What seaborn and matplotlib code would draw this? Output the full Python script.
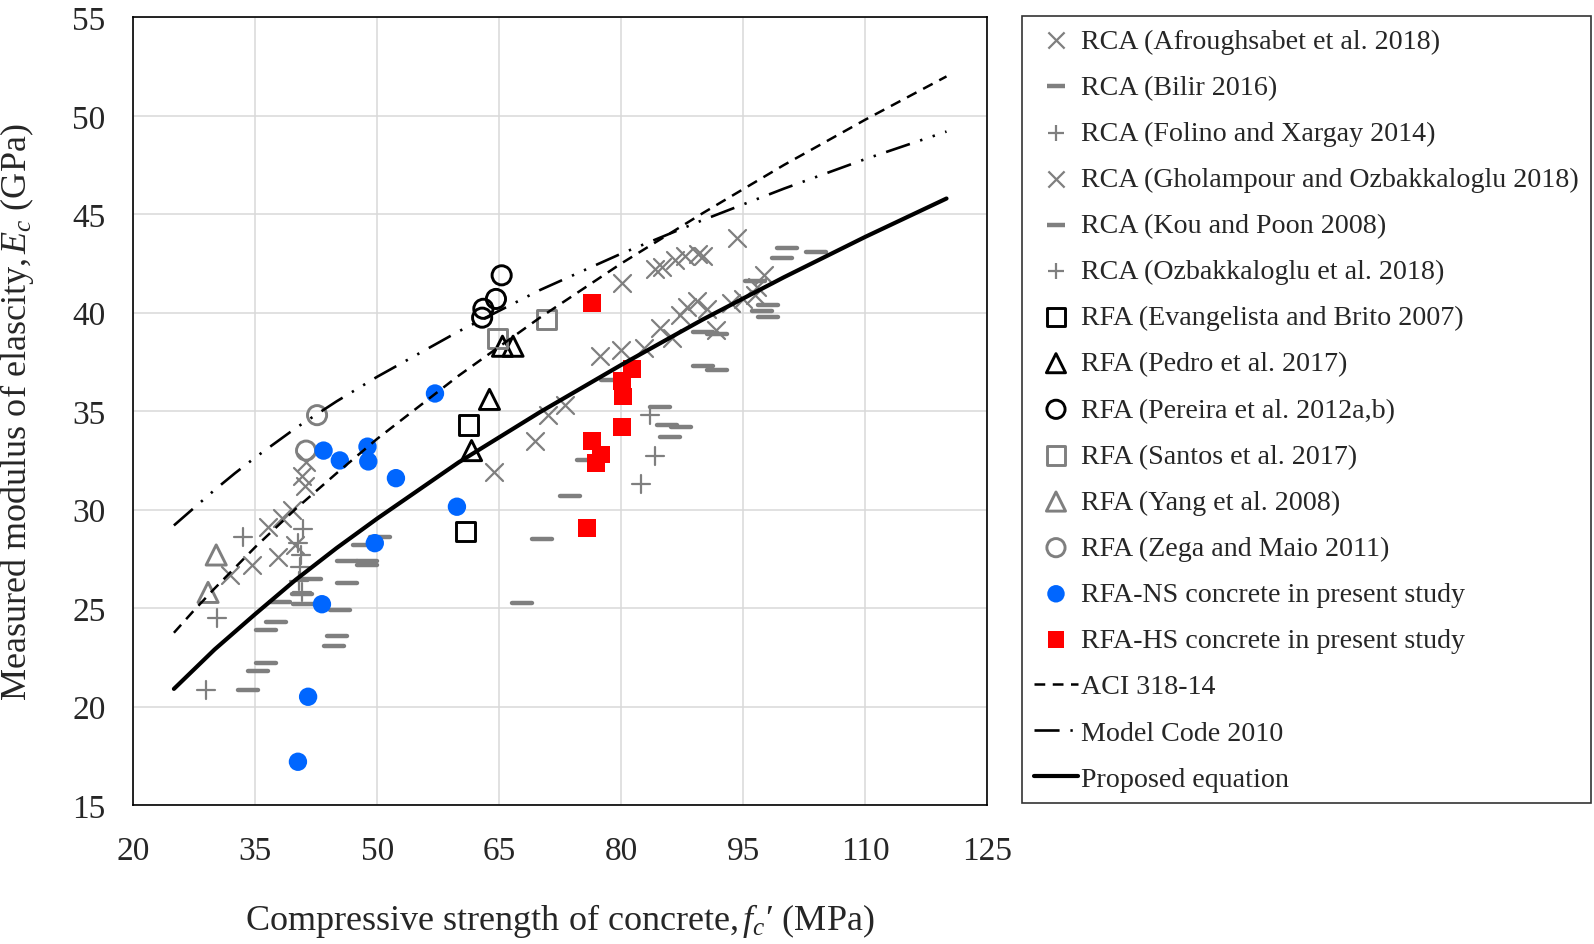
import numpy as np
import pandas as pd
import matplotlib
matplotlib.use('Agg')
import matplotlib.pyplot as plt
import seaborn as sns

# ---- data (fc' in MPa, Ec in GPa) ----
afrough_fc = [64.3, 69.4, 71.0, 73.1, 80.1, 84.2, 85.0, 86.6, 87.9, 89.5, 90.1, 94.2]
afrough_ec = [31.9, 33.5, 34.8, 35.3, 41.5, 42.2, 42.3, 42.7, 42.9, 43.0, 42.9, 43.8]

bilir_fc = [34.15, 35.4, 36.3, 36.3, 37.6, 38.05, 40.7, 40.9, 41.8, 44.7, 45.1, 45.4,
            46.25, 46.25, 48.3, 48.7, 48.7, 50.35]
bilir_ec = [20.85, 21.8, 22.2, 23.9, 24.3, 25.3, 25.7, 25.2, 26.5, 23.1, 23.6, 24.9,
            26.3, 27.4, 28.2, 27.4, 27.2, 28.6]

folino_fc = [29.0, 30.3, 33.5, 82.4, 84.2, 83.5]
folino_ec = [20.85, 24.5, 28.6, 31.3, 32.75, 34.8]

gholam_fc = [31.9, 34.6, 37.8, 36.6, 38.3, 39.5, 39.9, 40.7, 41.1, 41.3,
             77.4, 80.0, 82.8, 84.8, 86.2, 87.2, 88.1, 89.3, 90.5, 91.6, 93.5,
             95.0, 96.5, 96.7, 97.6]
gholam_ec = [26.7, 27.2, 27.6, 29.1, 29.6, 30.0, 28.2, 31.7, 31.2, 32.4,
             37.8, 38.1, 38.2, 39.2, 38.7, 39.9, 40.3, 40.6, 40.2, 39.1, 40.5,
             40.7, 40.9, 41.3, 41.9]

kou_fc = [67.8, 70.2, 73.7, 75.8, 78.8, 84.8, 85.6, 87.4, 86.0, 90.1, 91.75, 90.1,
          91.75, 96.4, 98.1, 97.3, 98.1, 99.8, 100.4, 104.0]
kou_ec = [25.25, 28.5, 30.7, 32.5, 36.6, 35.2, 34.3, 34.2, 33.7, 39.0, 38.9, 37.3,
          37.1, 41.6, 40.4, 40.1, 39.8, 42.8, 43.3, 43.1]

ozbak_fc = [40.9, 40.3, 40.6, 40.5, 40.4, 40.7]
ozbak_ec = [29.0, 28.3, 27.7, 27.1, 26.4, 25.8]

evang_fc = [61.2, 60.9]
evang_ec = [34.3, 28.9]

pedro_fc = [63.8, 61.6, 65.4, 66.7]
pedro_ec = [35.6, 33.0, 38.3, 38.3]

pereira_fc = [65.3, 64.6, 63.05, 62.9]
pereira_ec = [41.9, 40.7, 40.2, 39.75]

santos_fc = [64.8, 70.8]
santos_ec = [38.7, 39.65]

yang_fc = [30.2, 29.2]
yang_ec = [27.7, 25.8]

zega_fc = [42.6, 41.25]
zega_ec = [34.8, 33.0]

ns_fc = [43.4, 45.4, 48.8, 48.9, 52.3, 49.7, 43.2, 41.5, 40.25, 57.1, 59.8]
ns_ec = [33.0, 32.5, 33.2, 32.45, 31.6, 28.3, 25.2, 20.5, 17.2, 35.9, 30.15]

hs_fc = [76.4, 81.3, 80.1, 80.2, 80.1, 76.4, 77.5, 76.9, 75.8]
hs_ec = [40.5, 37.15, 36.55, 35.75, 34.2, 33.5, 32.8, 32.35, 29.05]

curve_fc = [25, 27.5, 30, 32.5, 35, 40, 45, 50, 60, 70, 80, 90, 100, 110, 120]
aci_ec = [23.75, 24.9, 26.0, 27.05, 28.1, 30.05, 31.85, 33.6, 36.8, 39.75, 42.5,
          45.05, 47.5, 49.8, 52.0]
mc_ec = [29.2, 30.1, 31.0, 31.85, 32.65, 34.15, 35.5, 36.75, 39.05, 41.15, 43.0,
         44.7, 46.3, 47.8, 49.2]
prop_ec = [20.9, 21.9, 22.9, 23.8, 24.7, 26.45, 28.05, 29.55, 32.4, 34.95, 37.35,
           39.65, 41.8, 43.85, 45.8]

x_ticks = [20, 35, 50, 65, 80, 95, 110, 125]
y_ticks = [15, 20, 25, 30, 35, 40, 45, 50, 55]

# ---- style ----
sns.set_style('white')
plt.rcParams['font.family'] = ['Liberation Serif', 'DejaVu Serif']
plt.rcParams['mathtext.fontset'] = 'custom'
plt.rcParams['mathtext.rm'] = 'Liberation Serif'
plt.rcParams['mathtext.it'] = 'Liberation Serif:italic'

GRAY = '#7f7f7f'
BLUE = '#0066ff'
RED = '#ff0000'

fig = plt.figure(figsize=(15.94, 9.45), dpi=100)
ax = fig.add_axes([0.0836, 0.147, 0.5357, 0.8336])

curves = pd.DataFrame({'fc': curve_fc, 'aci': aci_ec, 'mc': mc_ec, 'prop': prop_ec})

# scatter series
def pts(fc, ec, label, marker, s, color=None, face=None, edge=None, lw=1.3):
    kw = dict(x=fc, y=ec, marker=marker, s=s, linewidth=lw, label=label,
              legend=False, ax=ax, zorder=3)
    if face is not None:
        kw.update(facecolor=face, edgecolor=edge)
    else:
        kw.update(color=color)
    return sns.scatterplot(**kw)

pts(afrough_fc, afrough_ec, 'RCA (Afroughsabet et al. 2018)', 'x', 150, color=GRAY, lw=1.6)
pts(bilir_fc, bilir_ec, 'RCA (Bilir 2016)', '_', 200, color=GRAY, lw=3.2)
pts(folino_fc, folino_ec, 'RCA (Folino and Xargay 2014)', '+', 150, color=GRAY, lw=1.6)
pts(gholam_fc, gholam_ec, 'RCA (Gholampour and Ozbakkaloglu 2018)', 'x', 150, color=GRAY, lw=1.6)
pts(kou_fc, kou_ec, 'RCA (Kou and Poon 2008)', '_', 200, color=GRAY, lw=3.2)
pts(ozbak_fc, ozbak_ec, 'RCA (Ozbakkaloglu et al. 2018)', '+', 150, color=GRAY, lw=1.6)
pts(evang_fc, evang_ec, 'RFA (Evangelista and Brito 2007)', 's', 190, face='none', edge='black', lw=2.1)
pts(pedro_fc, pedro_ec, 'RFA (Pedro et al. 2017)', '^', 210, face='none', edge='black', lw=2.1)
pts(pereira_fc, pereira_ec, 'RFA (Pereira et al. 2012a,b)', 'o', 190, face='none', edge='black', lw=2.1)
pts(santos_fc, santos_ec, 'RFA (Santos et al. 2017)', 's', 190, face='none', edge=GRAY, lw=2.1)
pts(yang_fc, yang_ec, 'RFA (Yang et al. 2008)', '^', 210, face='none', edge=GRAY, lw=2.1)
pts(zega_fc, zega_ec, 'RFA (Zega and Maio 2011)', 'o', 190, face='none', edge=GRAY, lw=2.1)
pts(ns_fc, ns_ec, 'RFA-NS concrete in present study', 'o', 175, face=BLUE, edge='none', lw=0)
pts(hs_fc, hs_ec, 'RFA-HS concrete in present study', 's', 165, face=RED, edge='none', lw=0)

for coll in ax.collections:
    coll.set_capstyle('round')

sns.lineplot(data=curves, x='fc', y='aci', color='black', lw=1.8, ax=ax,
             label='ACI 318-14', legend=False, zorder=4)
ax.lines[-1].set_dashes([4.3, 3.0])
sns.lineplot(data=curves, x='fc', y='mc', color='black', lw=1.9, ax=ax,
             label='Model Code 2010', legend=False, zorder=4)
ax.lines[-1].set_dashes([9.5, 4.1, 0.9, 4.1, 0.9, 4.1])
sns.lineplot(data=curves, x='fc', y='prop', color='black', lw=3.0, ax=ax,
             label='Proposed equation', legend=False, zorder=4)

# axes
ax.set_xlim(20, 125)
ax.set_ylim(15, 55)
ax.set_xticks(x_ticks)
ax.set_yticks(y_ticks)
ax.grid(True, color='#d9d9d9', lw=1.1)
ax.set_axisbelow(True)
for sp in ax.spines.values():
    sp.set_color('black')
    sp.set_linewidth(1.2)
ax.tick_params(length=0, pad=20, labelsize=24)
ax.tick_params(axis='x', pad=22)
ax.set_xlabel("Compressive strength of concrete,$\\,f_c$\u2032 (MPa)", fontsize=26)
ax.set_ylabel("Measured modulus of elascity,$\\,E_c$ (GPa)", fontsize=26)
ax.xaxis.set_label_coords(0.5, -0.122)
ax.yaxis.set_label_coords(-0.114, 0.5)

handles, labels = ax.get_legend_handles_labels()
order = ['RCA (Afroughsabet et al. 2018)', 'RCA (Bilir 2016)', 'RCA (Folino and Xargay 2014)',
         'RCA (Gholampour and Ozbakkaloglu 2018)', 'RCA (Kou and Poon 2008)',
         'RCA (Ozbakkaloglu et al. 2018)', 'RFA (Evangelista and Brito 2007)',
         'RFA (Pedro et al. 2017)', 'RFA (Pereira et al. 2012a,b)', 'RFA (Santos et al. 2017)',
         'RFA (Yang et al. 2008)', 'RFA (Zega and Maio 2011)',
         'RFA-NS concrete in present study', 'RFA-HS concrete in present study',
         'ACI 318-14', 'Model Code 2010', 'Proposed equation']
hmap = dict(zip(labels, handles))
leg = fig.legend([hmap[l] for l in order], order, loc='upper left',
                 bbox_to_anchor=(0.641, 0.9817), bbox_transform=fig.transFigure,
                 fontsize=20.2, frameon=True, fancybox=False, borderaxespad=0,
                 handlelength=1.6, handletextpad=0.1, labelspacing=0.73,
                 borderpad=0.42, markerscale=0.95)
leg.get_frame().set_edgecolor('black')
leg.get_frame().set_linewidth(1.2)

fig.savefig('out.png', dpi=100)
